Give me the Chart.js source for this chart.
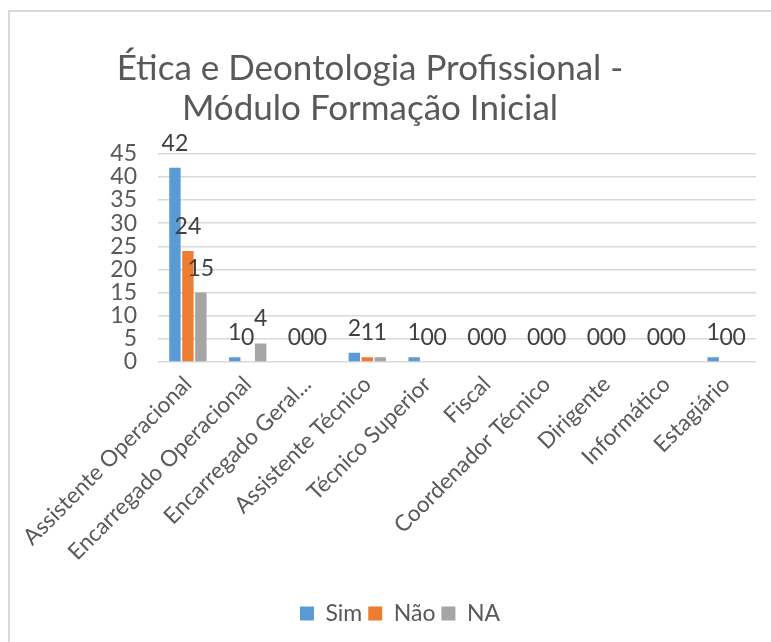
<!DOCTYPE html>
<html>
<head>
<meta charset="utf-8">
<script src="https://cdn.jsdelivr.net/npm/chart.js@4.4.1/dist/chart.umd.min.js"></script>
<style>
  html, body { margin: 0; padding: 0; background: #fff; }
  #frame {
    position: absolute; left: 8px; top: 10px; width: 800px; height: 700px;
    border-left: 2px solid #d9d9d9; border-top: 2px solid #d9d9d9;
  }
  #wrap { position: absolute; left: 0; top: 0; width: 771px; height: 642px; }
</style>
</head>
<body>
<div id="frame"></div>
<div id="wrap"><canvas id="roles-chart"></canvas></div>
<script>
// categories (Excel cut the third one short)
const categories = [
  "Assistente Operacional", "Encarregado Operacional", "Encarregado Geral...",
  "Assistente Técnico", "Técnico Superior", "Fiscal", "Coordenador Técnico",
  "Dirigente", "Informático", "Estagiário"
];
const simValues = [42, 1, 0, 2, 1, 0, 0, 0, 0, 1];
const naoValues = [24, 0, 0, 1, 0, 0, 0, 0, 0, 0];
const naValues  = [15, 4, 0, 1, 0, 0, 0, 0, 0, 0];
const titleLines = ["Ética e Deontologia Profissional -", "Módulo Formação Inicial"];

const FONT = "Lato";

/* numbers on top of every bar, like the excel data labels */
const valueLabels = {
  id: "valueLabels",
  afterDatasetsDraw(chart) {
    const ctx = chart.ctx;
    ctx.save();
    ctx.font = "23px " + FONT;
    ctx.fillStyle = "#404040";
    ctx.textAlign = "center";
    ctx.textBaseline = "alphabetic";
    chart.data.datasets.forEach((ds, i) => {
      chart.getDatasetMeta(i).data.forEach((bar, j) => {
        ctx.fillText(ds.data[j], bar.x, bar.y - 17);
      });
    });
    ctx.restore();
  }
};

/* title and legend are not centred on the same point in the original */
const nudge = {
  id: "nudge",
  afterLayout(chart) {
    const move = (box, dx) => {
      if (!box) return;
      box.left += dx;
      box.right += dx;
    };
    move(chart.titleBlock, -12);
    move(chart.legend, 18);
  }
};

function createRolesChart() {
  const canvas = document.querySelector("#roles-chart");
  let options = {
    type: "bar",
    data: {
      labels: categories,
      datasets: [
        { label: "Sim", data: simValues, backgroundColor: "#5b9bd5" },
        { label: "Não", data: naoValues, backgroundColor: "#ed7d31" },
        { label: "NA",  data: naValues,  backgroundColor: "#a5a5a5" }
      ]
    },
    options: {
      responsive: true,
      maintainAspectRatio: false,
      animation: false,
      layout: { padding: { left: 8, right: 15, top: 10, bottom: 7 } },
      datasets: {
        bar: { categoryPercentage: 0.65, barPercentage: 0.88 }
      },
      scales: {
        x: {
          grid: { display: false },
          border: { display: false },
          ticks: {
            color: "#595959",
            font: { family: FONT, size: 22.5 },
            minRotation: 45,
            maxRotation: 45,
            autoSkip: false,
            padding: 1
          },
          afterFit(scale) { scale.height = 234; }
        },
        y: {
          min: 0,
          max: 45,
          grid: { color: "#d9d9d9", lineWidth: 1.5, drawTicks: false },
          border: { display: false },
          ticks: {
            stepSize: 5,
            autoSkip: false,
            color: "#595959",
            font: { family: FONT, size: 23 },
            padding: 21
          },
          afterFit(scale) { scale.width = 150; }
        }
      },
      plugins: {
        title: {
          display: true,
          text: titleLines,
          color: "#595959",
          font: { family: FONT, size: 35, weight: "normal", lineHeight: 1.14 },
          padding: { top: 39, bottom: 25 }
        },
        legend: {
          position: "bottom",
          labels: {
            color: "#595959",
            font: { family: FONT, size: 23 },
            boxWidth: 14,
            boxHeight: 14,
            padding: 6
          }
        },
        tooltip: { enabled: false }
      }
    },
    plugins: [valueLabels, nudge]
  };
  const chart = new Chart(canvas.getContext("2d"), options);
}

createRolesChart();
</script>
</body>
</html>
